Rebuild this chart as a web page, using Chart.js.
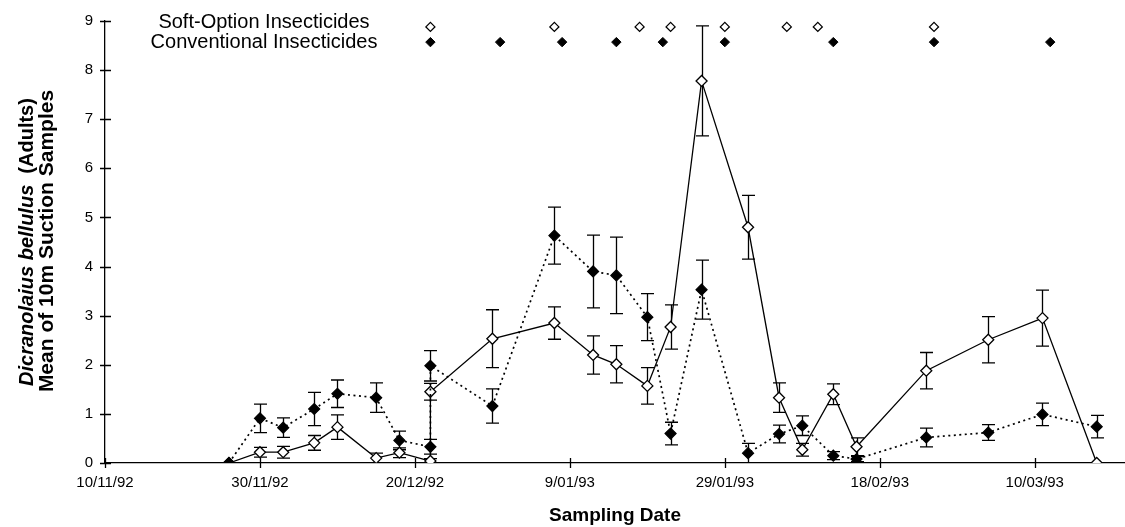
<!DOCTYPE html>
<html><head><meta charset="utf-8">
<script src="https://cdn.jsdelivr.net/npm/chart.js@4"></script>
<style>html,body{margin:0;padding:0;background:#fff;}#wrap{width:1125px;height:527px;position:relative;}</style>
</head><body><div id="wrap"><canvas id="c" width="1125" height="527" style="width:1125px;height:527px"></canvas></div>
<script>
// x values are days since 10/11/92
const tickDays = [0, 20, 40, 60, 80, 100, 120];
const tickLabels = ['10/11/92', '30/11/92', '20/12/92', '9/01/93', '29/01/93', '18/02/93', '10/03/93'];
const sampleDays = [16, 20, 23, 27, 30, 35, 38, 42, 42, 50, 58, 63, 66, 70, 73, 77, 83, 87, 90, 94, 97, 106, 114, 121, 128];
const softMean = [0, 0.22, 0.22, 0.41, 0.73, 0.1, 0.21, 0.04, 1.45, 2.53, 2.85, 2.2, 2.01, 1.57, 2.77, 7.78, 4.8, 1.33, 0.27, 1.4, 0.33, 1.88, 2.51, 2.95, 0];
const softSE = [0, 0.1, 0.12, 0.15, 0.25, 0.1, 0.1, 0.05, 0.17, 0.59, 0.33, 0.39, 0.38, 0.37, 0.45, 1.12, 0.65, 0.3, 0.13, 0.21, 0.18, 0.37, 0.47, 0.57, 0];
const convMean = [0, 0.91, 0.72, 1.1, 1.41, 1.33, 0.46, 0.33, 1.98, 1.16, 4.63, 3.9, 3.82, 2.97, 0.6, 3.53, 0.2, 0.59, 0.76, 0.15, 0.08, 0.52, 0.62, 0.99, 0.74];
const convSE = [0, 0.29, 0.2, 0.34, 0.28, 0.3, 0.19, 0.15, 0.31, 0.35, 0.58, 0.74, 0.78, 0.48, 0.23, 0.6, 0.2, 0.18, 0.2, 0.08, 0.05, 0.19, 0.16, 0.23, 0.23];
const softSprayDays = [42, 58, 69, 73, 80, 88, 92, 107];
const convSprayDays = [42, 51, 59, 66, 72, 80, 94, 107, 122];
const softSprayLevel = 8.88;
const convSprayLevel = 8.57;
const legendLabels = ['Soft-Option Insecticides', 'Conventional Insecticides'];
const yTitleItalic = 'Dicranolaius bellulus';
const yTitleRest = '  (Adults)';
const yTitleLine2 = 'Mean of 10m Suction Samples';
const xTitle = 'Sampling Date';

const FONT = "'Liberation Sans', Arial, sans-serif";
const pts = (xs, ys) => xs.map((x, i) => ({x: x, y: ys[i]}));

const errorBars = {
  id: 'errorBars',
  beforeDatasetsDraw(chart) {
    const ctx = chart.ctx, xs = chart.scales.x, ys = chart.scales.y;
    ctx.save();
    ctx.strokeStyle = '#000';
    ctx.lineWidth = 1.3;
    [[convMean, convSE], [softMean, softSE]].forEach(([m, e]) => {
      sampleDays.forEach((d, i) => {
        if (!e[i]) return;
        const px = Math.round(xs.getPixelForValue(d)) + 0.5;
        const t = ys.getPixelForValue(m[i] + e[i]);
        const b = ys.getPixelForValue(Math.max(0, m[i] - e[i]));
        ctx.beginPath();
        ctx.moveTo(px, t); ctx.lineTo(px, b);
        ctx.moveTo(px - 6.5, t); ctx.lineTo(px + 6.5, t);
        if (m[i] - e[i] > 0) { ctx.moveTo(px - 6.5, b); ctx.lineTo(px + 6.5, b); }
        ctx.stroke();
      });
    });
    ctx.restore();
  }
};

const decorations = {
  id: 'decorations',
  afterDraw(chart) {
    const ctx = chart.ctx, xs = chart.scales.x, ys = chart.scales.y;
    const a = chart.chartArea;
    ctx.save();
    ctx.strokeStyle = '#000';
    ctx.lineWidth = 1.3;
    ctx.beginPath();
    tickDays.forEach(d => {
      const px = Math.round(xs.getPixelForValue(d)) + 0.5;
      ctx.moveTo(px, a.bottom - 5); ctx.lineTo(px, a.bottom + 5);
    });
    ys.ticks.forEach(t => {
      const py = Math.round(ys.getPixelForValue(t.value)) + 0.5;
      ctx.moveTo(a.left - 5, py); ctx.lineTo(a.left + 6, py);
    });
    ctx.stroke();
    // legend texts
    ctx.fillStyle = '#000';
    ctx.font = '20px ' + FONT;
    ctx.textAlign = 'center';
    ctx.textBaseline = 'alphabetic';
    ctx.fillText(legendLabels[0], 264, 28);
    ctx.fillText(legendLabels[1], 264, 48);
    // y title
    ctx.rotate(-Math.PI / 2);
    const f1 = 'italic bold 20px ' + FONT, f2 = 'bold 20px ' + FONT;
    ctx.font = f1; const w1 = ctx.measureText(yTitleItalic).width;
    ctx.font = f2; const w2 = ctx.measureText(yTitleRest).width;
    const cy = 242;
    const start = -cy - (w1 + w2) / 2;
    ctx.textAlign = 'left';
    ctx.font = f1; ctx.fillText(yTitleItalic, start, 33);
    ctx.font = f2; ctx.fillText(yTitleRest, start + w1, 33);
    ctx.font = 'bold 21px ' + FONT;
    ctx.textAlign = 'center';
    ctx.fillText(yTitleLine2, -241, 53);
    ctx.restore();
  }
};

new Chart(document.getElementById('c'), {
  type: 'scatter',
  data: {
    datasets: [
      {
        label: 'Conventional',
        data: pts(sampleDays, convMean),
        showLine: true,
        borderColor: '#000', borderWidth: 1.7, borderDash: [2, 3.5],
        pointStyle: 'rectRot', pointRadius: 5.5, pointHoverRadius: 5.5,
        pointBackgroundColor: '#000', pointBorderColor: '#000', pointBorderWidth: 1.2,
        tension: 0
      },
      {
        label: 'Soft-Option',
        data: pts(sampleDays, softMean),
        showLine: true,
        borderColor: '#000', borderWidth: 1.3,
        pointStyle: 'rectRot', pointRadius: 5.5, pointHoverRadius: 5.5,
        pointBackgroundColor: '#fff', pointBorderColor: '#000', pointBorderWidth: 1.3,
        tension: 0
      },
      {
        label: legendLabels[0],
        data: softSprayDays.map(d => ({x: d, y: softSprayLevel})),
        showLine: false,
        pointStyle: 'rectRot', pointRadius: 4.5,
        pointBackgroundColor: '#fff', pointBorderColor: '#000', pointBorderWidth: 1.3
      },
      {
        label: legendLabels[1],
        data: convSprayDays.map(d => ({x: d, y: convSprayLevel})),
        showLine: false,
        pointStyle: 'rectRot', pointRadius: 4.7,
        pointBackgroundColor: '#000', pointBorderColor: '#000', pointBorderWidth: 1
      }
    ]
  },
  options: {
    responsive: false,
    animation: false,
    events: [],
    layout: {autoPadding: false, padding: {top: 21, right: 0, bottom: 0, left: 0}},
    plugins: {legend: {display: false}, tooltip: {enabled: false}},
    scales: {
      x: {
        type: 'linear', min: 0, max: 131.65,
        afterBuildTicks: s => { s.ticks = tickDays.map(v => ({value: v})); },
        afterFit: s => { s.height = 64; },
        ticks: {
          callback: (v, i) => tickLabels[i],
          font: {family: FONT, size: 15}, color: '#000', padding: 11, maxRotation: 0, autoSkip: false
        },
        grid: {display: true, drawOnChartArea: false, drawTicks: false},
        border: {display: true, color: '#000', width: 1.3},
        title: {display: true, text: xTitle, color: '#000', font: {family: FONT, size: 19, weight: 'bold'}, padding: 0}
      },
      y: {
        min: 0, max: 9,
        afterFit: s => { s.width = 105; },
        ticks: {stepSize: 1, font: {family: FONT, size: 15}, color: '#000', padding: 12},
        grid: {display: true, drawOnChartArea: false, drawTicks: false},
        border: {display: true, color: '#000', width: 1.3}
      }
    }
  },
  plugins: [errorBars, decorations]
});
</script></body></html>
